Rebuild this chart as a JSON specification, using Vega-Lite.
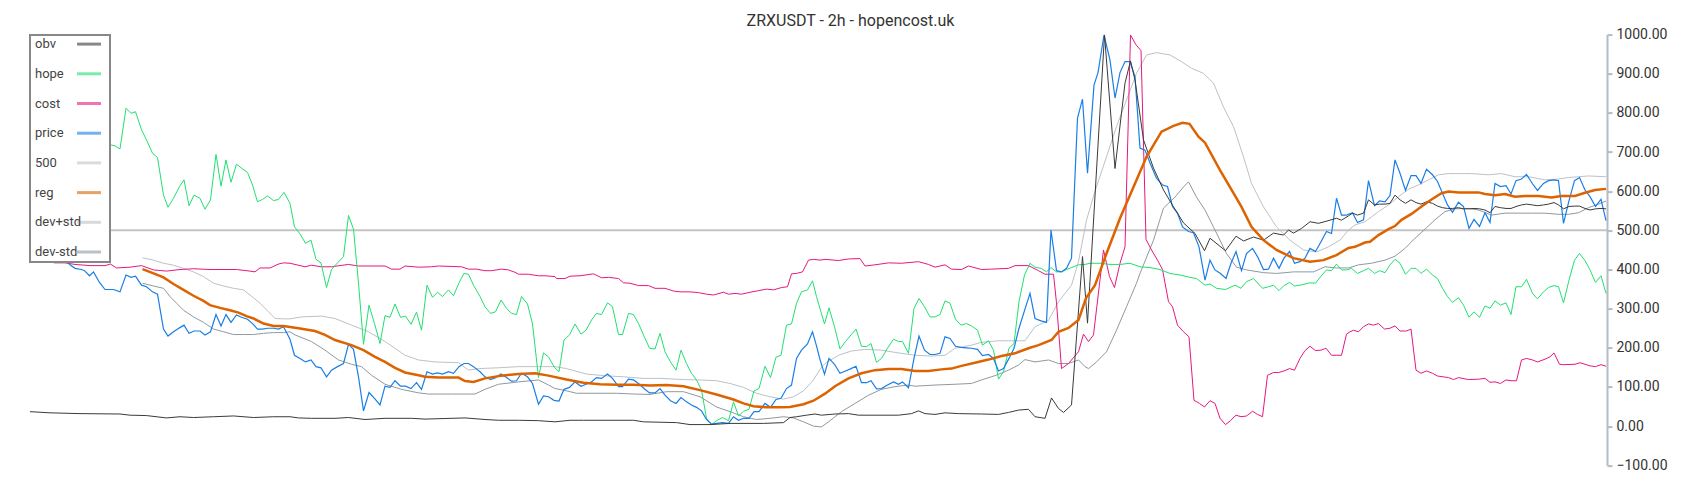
{
"$schema":"https://vega.github.io/schema/vega-lite/v6.json",
"autosize":"none","width":1577,"height":430.7,
"padding":{"left":30,"top":34.6,"right":93,"bottom":34.7},
"background":"white",
"title":{"text":"ZRXUSDT - 2h - hopencost.uk","font":"Roboto","fontSize":16,"fontWeight":"normal","color":"#333","anchor":"middle","dx":32,"offset":-1},
"config":{"view":{"stroke":null}},
"datasets":{
"obv":[{"t":0,"v":37},{"t":4,"v":34},{"t":10,"v":32},{"t":18,"v":31},{"t":20,"v":28},{"t":23.3,"v":27},{"t":27.3,"v":21},{"t":30,"v":24},{"t":32.7,"v":22},{"t":36.7,"v":24},{"t":40.7,"v":26},{"t":44.7,"v":22},{"t":48.7,"v":24},{"t":52,"v":24},{"t":53.7,"v":21},{"t":56.3,"v":20},{"t":61,"v":20},{"t":63.7,"v":22},{"t":67,"v":17},{"t":71,"v":20},{"t":76.3,"v":20},{"t":79,"v":18},{"t":87,"v":21},{"t":91,"v":17},{"t":93.7,"v":15},{"t":97.7,"v":15},{"t":101.7,"v":14},{"t":105,"v":11},{"t":108,"v":15},{"t":110.7,"v":15},{"t":116,"v":15},{"t":120.7,"v":15},{"t":122.7,"v":11},{"t":129.3,"v":9},{"t":132,"v":4},{"t":136,"v":4},{"t":140,"v":7},{"t":144,"v":7},{"t":146.7,"v":7},{"t":150.7,"v":9},{"t":152,"v":22},{"t":153.3,"v":24},{"t":155.3,"v":28},{"t":157,"v":31},{"t":158.3,"v":28},{"t":161,"v":31},{"t":163.7,"v":32},{"t":165.7,"v":28},{"t":169,"v":28},{"t":173.7,"v":28},{"t":176.3,"v":32},{"t":177.7,"v":39},{"t":179,"v":32},{"t":181,"v":30},{"t":183,"v":34},{"t":185.7,"v":32},{"t":190.3,"v":31},{"t":193.7,"v":30},{"t":195.7,"v":35},{"t":197.7,"v":41},{"t":199.7,"v":43},{"t":201,"v":24},{"t":203,"v":20},{"t":204.3,"v":72},{"t":205.7,"v":45},{"t":206.7,"v":35},{"t":208.3,"v":54},{"t":210.5,"v":433},{"t":211.5,"v":263},{"t":214.9,"v":999},{"t":217,"v":658},{"t":219,"v":876},{"t":220.1,"v":933},{"t":221,"v":884},{"t":222.7,"v":731},{"t":224.7,"v":659},{"t":226.7,"v":603},{"t":228.7,"v":560},{"t":230.7,"v":519},{"t":233,"v":492},{"t":234.9,"v":448},{"t":236,"v":480},{"t":239.1,"v":448},{"t":241.2,"v":485},{"t":242.7,"v":473},{"t":244.7,"v":483},{"t":246.7,"v":475},{"t":248.7,"v":493},{"t":250.7,"v":488},{"t":251.7,"v":501},{"t":252.7,"v":493},{"t":254.3,"v":505},{"t":256,"v":522},{"t":257.7,"v":518},{"t":260,"v":526},{"t":261.3,"v":531},{"t":262.3,"v":526},{"t":263.7,"v":537},{"t":264.5,"v":544},{"t":265.5,"v":539},{"t":266.7,"v":544},{"t":267.7,"v":578},{"t":268.9,"v":565},{"t":269.9,"v":567},{"t":271,"v":567},{"t":272,"v":569},{"t":273,"v":590},{"t":274,"v":578},{"t":275.1,"v":569},{"t":276.2,"v":578},{"t":277.2,"v":571},{"t":278.2,"v":567},{"t":279.3,"v":573},{"t":280.5,"v":569},{"t":281.5,"v":562},{"t":282.5,"v":558},{"t":283.5,"v":556},{"t":284.5,"v":556},{"t":285.7,"v":558},{"t":286.7,"v":555},{"t":287.8,"v":555},{"t":288.8,"v":556},{"t":289.9,"v":555},{"t":291,"v":552},{"t":292,"v":545},{"t":293,"v":561},{"t":294.1,"v":558},{"t":295.2,"v":556},{"t":296.2,"v":556},{"t":297.2,"v":561},{"t":298.3,"v":565},{"t":299.3,"v":567},{"t":300.5,"v":565},{"t":301.5,"v":563},{"t":302.7,"v":565},{"t":303.7,"v":567},{"t":304.8,"v":571},{"t":305.7,"v":565},{"t":306.7,"v":555},{"t":307.8,"v":561},{"t":308.9,"v":562},{"t":309.9,"v":562},{"t":311,"v":556},{"t":312,"v":552},{"t":313.1,"v":555},{"t":314.2,"v":556},{"t":315.2,"v":555}],
"hope":[{"t":0,"v":720},{"t":8,"v":728},{"t":16.2,"v":718},{"t":17,"v":716},{"t":18,"v":708},{"t":19.2,"v":812},{"t":20.2,"v":799},{"t":21.1,"v":803},{"t":22.3,"v":757},{"t":23.3,"v":731},{"t":24.5,"v":697},{"t":25.5,"v":686},{"t":26.7,"v":590},{"t":27.6,"v":559},{"t":28.7,"v":582},{"t":29.9,"v":612},{"t":30.8,"v":629},{"t":31.8,"v":563},{"t":32.8,"v":590},{"t":34,"v":582},{"t":35,"v":554},{"t":36.1,"v":578},{"t":37.2,"v":694},{"t":38.2,"v":613},{"t":39.2,"v":680},{"t":40.2,"v":623},{"t":41.3,"v":669},{"t":42.3,"v":659},{"t":43.5,"v":648},{"t":44.5,"v":616},{"t":45.5,"v":573},{"t":46.5,"v":579},{"t":47.5,"v":588},{"t":48.7,"v":576},{"t":49.7,"v":579},{"t":50.8,"v":597},{"t":52,"v":569},{"t":52.9,"v":509},{"t":54,"v":491},{"t":55.1,"v":467},{"t":56.2,"v":475},{"t":57.2,"v":426},{"t":58.2,"v":417},{"t":59.3,"v":354},{"t":60.3,"v":400},{"t":61.5,"v":417},{"t":62.7,"v":433},{"t":63.7,"v":538},{"t":64.7,"v":503},{"t":65.7,"v":365},{"t":66.7,"v":209},{"t":67.8,"v":309},{"t":68.9,"v":262},{"t":70,"v":211},{"t":71,"v":282},{"t":72,"v":278},{"t":73,"v":312},{"t":74.1,"v":278},{"t":75.1,"v":281},{"t":76.2,"v":260},{"t":77.3,"v":291},{"t":78.3,"v":245},{"t":79.4,"v":360},{"t":80.5,"v":329},{"t":81.5,"v":342},{"t":82.5,"v":331},{"t":83.7,"v":348},{"t":84.7,"v":333},{"t":85.8,"v":366},{"t":86.8,"v":390},{"t":87.7,"v":388},{"t":88.7,"v":360},{"t":90,"v":331},{"t":91,"v":305},{"t":92.1,"v":288},{"t":93.1,"v":292},{"t":94.2,"v":322},{"t":95.3,"v":301},{"t":96.3,"v":288},{"t":97.3,"v":285},{"t":98.3,"v":331},{"t":99.5,"v":312},{"t":100.5,"v":261},{"t":101.7,"v":124},{"t":102.7,"v":187},{"t":103.7,"v":177},{"t":104.9,"v":150},{"t":105.8,"v":139},{"t":106.8,"v":220},{"t":107.9,"v":233},{"t":109,"v":261},{"t":110.2,"v":235},{"t":111.2,"v":245},{"t":112.3,"v":271},{"t":113.3,"v":288},{"t":114.3,"v":285},{"t":115.5,"v":315},{"t":116.5,"v":305},{"t":117.7,"v":234},{"t":118.5,"v":234},{"t":119.7,"v":288},{"t":120.7,"v":285},{"t":121.7,"v":262},{"t":122.8,"v":230},{"t":123.9,"v":199},{"t":125,"v":197},{"t":126,"v":237},{"t":127,"v":190},{"t":128.1,"v":164},{"t":129.2,"v":143},{"t":130.2,"v":194},{"t":131.3,"v":160},{"t":132.3,"v":135},{"t":133.3,"v":118},{"t":134.3,"v":92},{"t":135.3,"v":20},{"t":136.3,"v":4},{"t":137.3,"v":14},{"t":138.5,"v":22},{"t":139.7,"v":14},{"t":140.7,"v":62},{"t":141.7,"v":26},{"t":142.7,"v":38},{"t":143.8,"v":43},{"t":144.8,"v":90},{"t":145.8,"v":96},{"t":147,"v":153},{"t":148.1,"v":124},{"t":149.2,"v":176},{"t":150.2,"v":181},{"t":151.3,"v":258},{"t":152.3,"v":261},{"t":153.3,"v":314},{"t":154.3,"v":343},{"t":155.5,"v":348},{"t":156.5,"v":371},{"t":157.3,"v":331},{"t":158,"v":300},{"t":158.9,"v":261},{"t":159.8,"v":302},{"t":160.9,"v":254},{"t":162,"v":197},{"t":163.1,"v":216},{"t":164.2,"v":233},{"t":165.2,"v":248},{"t":166.3,"v":204},{"t":167.3,"v":203},{"t":168.2,"v":211},{"t":169.3,"v":163},{"t":170.3,"v":173},{"t":171.5,"v":199},{"t":172.7,"v":222},{"t":173.7,"v":216},{"t":174.5,"v":216},{"t":175.7,"v":186},{"t":176.8,"v":301},{"t":177.8,"v":326},{"t":178.9,"v":305},{"t":180,"v":279},{"t":181,"v":279},{"t":182,"v":285},{"t":183,"v":320},{"t":184,"v":314},{"t":185.1,"v":273},{"t":186.2,"v":258},{"t":187.3,"v":262},{"t":188.3,"v":256},{"t":189.5,"v":245},{"t":190.5,"v":207},{"t":191.7,"v":218},{"t":192.7,"v":194},{"t":193.7,"v":120},{"t":194.7,"v":139},{"t":195.8,"v":199},{"t":196.8,"v":211},{"t":197.8,"v":318},{"t":198.9,"v":386},{"t":200,"v":416},{"t":201,"v":406},{"t":202.2,"v":403},{"t":203.3,"v":394},{"t":204.2,"v":405},{"t":205.3,"v":394},{"t":206.3,"v":394},{"t":207.3,"v":400},{"t":208.3,"v":405},{"t":209.7,"v":412},{"t":211,"v":413},{"t":212,"v":416},{"t":214,"v":416},{"t":216,"v":413},{"t":218,"v":413},{"t":220,"v":416},{"t":222,"v":407},{"t":224,"v":405},{"t":226,"v":400},{"t":228,"v":390},{"t":230,"v":386},{"t":232,"v":380},{"t":233.3,"v":377},{"t":235,"v":360},{"t":236,"v":363},{"t":237.3,"v":352},{"t":239.1,"v":349},{"t":241,"v":360},{"t":242.2,"v":352},{"t":243.3,"v":369},{"t":244.7,"v":377},{"t":246.5,"v":352},{"t":247.7,"v":356},{"t":248.7,"v":360},{"t":249.8,"v":346},{"t":250.8,"v":359},{"t":251.9,"v":367},{"t":252.9,"v":358},{"t":254,"v":360},{"t":256,"v":366},{"t":257.1,"v":365},{"t":258.2,"v":383},{"t":259.3,"v":399},{"t":260.3,"v":397},{"t":261.3,"v":414},{"t":262.3,"v":399},{"t":263.3,"v":399},{"t":264.3,"v":403},{"t":265.5,"v":390},{"t":266.7,"v":397},{"t":267.7,"v":403},{"t":268.9,"v":390},{"t":269.9,"v":397},{"t":271,"v":392},{"t":272,"v":412},{"t":273,"v":426},{"t":274,"v":416},{"t":275.1,"v":388},{"t":276.2,"v":403},{"t":277.2,"v":403},{"t":278.2,"v":390},{"t":279.3,"v":401},{"t":280.5,"v":386},{"t":281.5,"v":377},{"t":282.5,"v":352},{"t":283.5,"v":331},{"t":284.5,"v":316},{"t":285.7,"v":328},{"t":286.7,"v":309},{"t":287.8,"v":278},{"t":288.8,"v":292},{"t":289.9,"v":278},{"t":291,"v":307},{"t":292,"v":301},{"t":293,"v":320},{"t":294.1,"v":309},{"t":295.2,"v":315},{"t":296.2,"v":285},{"t":297.2,"v":356},{"t":298.3,"v":356},{"t":299.3,"v":375},{"t":300.5,"v":339},{"t":301.5,"v":325},{"t":302.7,"v":343},{"t":303.7,"v":354},{"t":304.8,"v":359},{"t":305.7,"v":356},{"t":306.7,"v":315},{"t":307.8,"v":373},{"t":308.9,"v":424},{"t":309.9,"v":441},{"t":311,"v":423},{"t":312,"v":399},{"t":313.1,"v":367},{"t":314.2,"v":384},{"t":315.2,"v":339}],
"cost":[{"t":0,"v":430},{"t":2,"v":424},{"t":5,"v":417},{"t":7,"v":417},{"t":9,"v":413},{"t":12,"v":410},{"t":15,"v":410},{"t":16.1,"v":414},{"t":17.3,"v":404},{"t":20,"v":406},{"t":22.3,"v":410},{"t":24.7,"v":399},{"t":27.3,"v":396},{"t":30,"v":400},{"t":32.7,"v":402},{"t":36,"v":400},{"t":41.3,"v":400},{"t":44,"v":396},{"t":45,"v":394},{"t":46,"v":404},{"t":48,"v":404},{"t":49.7,"v":414},{"t":50.7,"v":417},{"t":52,"v":416},{"t":53,"v":413},{"t":55,"v":407},{"t":56.3,"v":411},{"t":58.3,"v":407},{"t":60.3,"v":407},{"t":63.7,"v":413},{"t":65.7,"v":409},{"t":71,"v":409},{"t":72.3,"v":401},{"t":74,"v":401},{"t":75,"v":409},{"t":77.7,"v":406},{"t":80.3,"v":407},{"t":81.7,"v":409},{"t":86.3,"v":407},{"t":87.7,"v":401},{"t":89.3,"v":401},{"t":91,"v":397},{"t":92.3,"v":397},{"t":94.3,"v":401},{"t":95.7,"v":399},{"t":97,"v":393},{"t":97.7,"v":388},{"t":99.7,"v":388},{"t":101.7,"v":384},{"t":103,"v":384},{"t":105,"v":382},{"t":105.3,"v":377},{"t":107,"v":377},{"t":108,"v":383},{"t":110,"v":384},{"t":112.7,"v":389},{"t":114.3,"v":379},{"t":115.7,"v":380},{"t":117.7,"v":377},{"t":118.7,"v":366},{"t":120,"v":365},{"t":121.7,"v":359},{"t":123.7,"v":359},{"t":125,"v":352},{"t":127,"v":352},{"t":128.7,"v":345},{"t":130,"v":343},{"t":132,"v":343},{"t":133.7,"v":341},{"t":135.3,"v":337},{"t":136.7,"v":335},{"t":138.7,"v":342},{"t":139.7,"v":337},{"t":141,"v":339},{"t":142.3,"v":337},{"t":144,"v":342},{"t":145.7,"v":346},{"t":147.3,"v":350},{"t":148.7,"v":348},{"t":150.3,"v":354},{"t":151.5,"v":356},{"t":152.3,"v":389},{"t":153.3,"v":390},{"t":154.5,"v":394},{"t":155.7,"v":424},{"t":156.7,"v":426},{"t":158,"v":424},{"t":159,"v":426},{"t":161.7,"v":423},{"t":163.7,"v":427},{"t":166,"v":428},{"t":167,"v":409},{"t":169,"v":412},{"t":171.7,"v":417},{"t":174.3,"v":416},{"t":177.7,"v":420},{"t":179.7,"v":413},{"t":181,"v":406},{"t":183,"v":412},{"t":184.3,"v":401},{"t":186.3,"v":400},{"t":187.7,"v":409},{"t":190.3,"v":400},{"t":192.3,"v":401},{"t":195.7,"v":403},{"t":197,"v":410},{"t":199.7,"v":410},{"t":201.7,"v":397},{"t":203,"v":388},{"t":204.7,"v":388},{"t":205.3,"v":315},{"t":206.3,"v":147},{"t":207.7,"v":160},{"t":209.7,"v":190},{"t":210.7,"v":235},{"t":211.7,"v":216},{"t":212.7,"v":233},{"t":214.7,"v":450},{"t":215.9,"v":382},{"t":216.9,"v":354},{"t":218,"v":416},{"t":219,"v":458},{"t":220.1,"v":999},{"t":221.2,"v":974},{"t":222.2,"v":959},{"t":223.2,"v":477},{"t":224.3,"v":450},{"t":225.5,"v":424},{"t":226.5,"v":400},{"t":227.7,"v":318},{"t":228.5,"v":305},{"t":229.5,"v":258},{"t":230.7,"v":241},{"t":231.8,"v":228},{"t":232.8,"v":66},{"t":233.9,"v":58},{"t":234.9,"v":49},{"t":236,"v":65},{"t":237,"v":58},{"t":238,"v":20},{"t":239.1,"v":4},{"t":240.1,"v":14},{"t":241.2,"v":28},{"t":242.2,"v":24},{"t":243.3,"v":26},{"t":244.5,"v":38},{"t":245.5,"v":30},{"t":246.5,"v":24},{"t":247.5,"v":130},{"t":248.7,"v":137},{"t":249.7,"v":137},{"t":250.8,"v":141},{"t":251.9,"v":147},{"t":252.9,"v":143},{"t":254,"v":173},{"t":255,"v":193},{"t":256,"v":204},{"t":257.1,"v":193},{"t":258.2,"v":194},{"t":259.2,"v":199},{"t":260.3,"v":181},{"t":261.3,"v":181},{"t":262.3,"v":181},{"t":263.3,"v":235},{"t":264,"v":241},{"t":264.7,"v":245},{"t":265.7,"v":241},{"t":266.7,"v":254},{"t":267.7,"v":261},{"t":268.7,"v":258},{"t":269.7,"v":262},{"t":270.9,"v":248},{"t":272,"v":250},{"t":273,"v":256},{"t":274,"v":243},{"t":275.3,"v":243},{"t":276.2,"v":248},{"t":277.2,"v":143},{"t":278.2,"v":135},{"t":279.3,"v":141},{"t":280.5,"v":135},{"t":281.5,"v":128},{"t":283.7,"v":124},{"t":284.7,"v":119},{"t":285.7,"v":124},{"t":287.7,"v":119},{"t":289.7,"v":120},{"t":291,"v":122},{"t":292,"v":112},{"t":293,"v":113},{"t":294.1,"v":109},{"t":295.2,"v":118},{"t":296.2,"v":116},{"t":297.3,"v":116},{"t":298.3,"v":169},{"t":299.3,"v":173},{"t":300.5,"v":169},{"t":301.5,"v":164},{"t":303,"v":171},{"t":304,"v":177},{"t":304.8,"v":187},{"t":305.9,"v":158},{"t":306.7,"v":157},{"t":309,"v":158},{"t":310,"v":162},{"t":311,"v":158},{"t":312,"v":154},{"t":313.1,"v":152},{"t":314.2,"v":157},{"t":315.2,"v":153}],
"price":[{"t":0,"v":440},{"t":4,"v":432},{"t":7,"v":424},{"t":8,"v":412},{"t":9,"v":403},{"t":10.3,"v":400},{"t":10.9,"v":397},{"t":11.9,"v":384},{"t":12.7,"v":394},{"t":13.9,"v":367},{"t":15,"v":349},{"t":16.7,"v":349},{"t":18,"v":343},{"t":19.2,"v":386},{"t":20.2,"v":380},{"t":21.1,"v":383},{"t":22.3,"v":360},{"t":23.3,"v":356},{"t":24.5,"v":343},{"t":25.5,"v":337},{"t":26.7,"v":248},{"t":27.6,"v":230},{"t":28.7,"v":241},{"t":29.9,"v":251},{"t":30.8,"v":258},{"t":31.8,"v":237},{"t":32.8,"v":243},{"t":34,"v":243},{"t":35,"v":233},{"t":36.1,"v":241},{"t":37.2,"v":285},{"t":38.2,"v":256},{"t":39.2,"v":285},{"t":40.2,"v":265},{"t":41.3,"v":284},{"t":42.3,"v":278},{"t":43.5,"v":273},{"t":44.5,"v":262},{"t":45.5,"v":248},{"t":46.5,"v":248},{"t":47.5,"v":250},{"t":48.7,"v":250},{"t":49.7,"v":248},{"t":50.7,"v":254},{"t":52,"v":222},{"t":52.9,"v":181},{"t":54,"v":173},{"t":55.1,"v":164},{"t":56.2,"v":169},{"t":57.2,"v":152},{"t":58.2,"v":149},{"t":59.3,"v":126},{"t":60.3,"v":143},{"t":61.5,"v":152},{"t":62.7,"v":160},{"t":63.7,"v":209},{"t":64.7,"v":196},{"t":65.7,"v":126},{"t":66.7,"v":39},{"t":67.8,"v":86},{"t":68.9,"v":71},{"t":70,"v":54},{"t":71,"v":102},{"t":72,"v":99},{"t":73,"v":116},{"t":74.1,"v":102},{"t":75.1,"v":102},{"t":76.2,"v":96},{"t":77.3,"v":111},{"t":78.3,"v":94},{"t":79.4,"v":139},{"t":80.5,"v":133},{"t":81.5,"v":136},{"t":82.5,"v":133},{"t":83.7,"v":139},{"t":84.7,"v":135},{"t":85.8,"v":152},{"t":86.8,"v":160},{"t":87.7,"v":160},{"t":88.7,"v":152},{"t":90,"v":139},{"t":91,"v":126},{"t":92.1,"v":119},{"t":93.1,"v":124},{"t":94.2,"v":133},{"t":95.3,"v":124},{"t":96.3,"v":115},{"t":97.3,"v":116},{"t":98.3,"v":135},{"t":99.5,"v":126},{"t":100.5,"v":109},{"t":101.7,"v":56},{"t":102.7,"v":77},{"t":103.7,"v":75},{"t":104.8,"v":66},{"t":105.8,"v":64},{"t":106.8,"v":94},{"t":107.9,"v":99},{"t":109,"v":113},{"t":110.2,"v":102},{"t":111.2,"v":107},{"t":112.3,"v":113},{"t":113.3,"v":124},{"t":114.3,"v":122},{"t":115.5,"v":133},{"t":116.5,"v":122},{"t":117.7,"v":101},{"t":118.5,"v":101},{"t":119.7,"v":120},{"t":120.7,"v":118},{"t":121.7,"v":109},{"t":122.8,"v":96},{"t":123.9,"v":85},{"t":125,"v":85},{"t":126,"v":96},{"t":127,"v":79},{"t":128.1,"v":65},{"t":129.2,"v":58},{"t":130.2,"v":73},{"t":131.3,"v":62},{"t":132.3,"v":54},{"t":133.3,"v":48},{"t":134.3,"v":39},{"t":135.3,"v":17},{"t":136.3,"v":5},{"t":137.3,"v":7},{"t":138.5,"v":9},{"t":139.7,"v":7},{"t":140.7,"v":24},{"t":141.7,"v":15},{"t":142.7,"v":20},{"t":143.8,"v":20},{"t":144.8,"v":37},{"t":145.8,"v":37},{"t":147,"v":58},{"t":148.1,"v":48},{"t":149.2,"v":68},{"t":150.2,"v":71},{"t":151.3,"v":96},{"t":152.3,"v":105},{"t":153.3,"v":173},{"t":154.3,"v":194},{"t":155.5,"v":210},{"t":156.5,"v":241},{"t":157.3,"v":205},{"t":158,"v":170},{"t":158.9,"v":133},{"t":159.8,"v":173},{"t":160.9,"v":158},{"t":162,"v":135},{"t":163.1,"v":141},{"t":164.2,"v":147},{"t":165.2,"v":153},{"t":166.3,"v":111},{"t":167.3,"v":111},{"t":168.2,"v":116},{"t":169.3,"v":95},{"t":170.3,"v":96},{"t":171.5,"v":105},{"t":172.7,"v":113},{"t":173.7,"v":107},{"t":174.5,"v":113},{"t":175.7,"v":98},{"t":176.8,"v":173},{"t":177.8,"v":230},{"t":178.9,"v":194},{"t":180,"v":183},{"t":181,"v":183},{"t":182,"v":186},{"t":183,"v":228},{"t":184,"v":224},{"t":185.1,"v":204},{"t":186.2,"v":201},{"t":187.3,"v":200},{"t":188.3,"v":199},{"t":189.5,"v":196},{"t":190.5,"v":180},{"t":191.7,"v":183},{"t":192.7,"v":173},{"t":193.7,"v":141},{"t":194.7,"v":147},{"t":195.8,"v":173},{"t":196.8,"v":199},{"t":197.8,"v":250},{"t":198.9,"v":295},{"t":200,"v":339},{"t":201,"v":275},{"t":202.2,"v":269},{"t":203.3,"v":265},{"t":204.2,"v":501},{"t":205.3,"v":397},{"t":206.3,"v":394},{"t":207.3,"v":403},{"t":208.3,"v":429},{"t":209.5,"v":787},{"t":210.5,"v":835},{"t":211.5,"v":646},{"t":212.8,"v":871},{"t":213.6,"v":903},{"t":214.8,"v":999},{"t":216,"v":935},{"t":217,"v":838},{"t":218,"v":903},{"t":219,"v":931},{"t":220,"v":931},{"t":221,"v":892},{"t":222,"v":710},{"t":223,"v":705},{"t":224,"v":672},{"t":225.3,"v":633},{"t":226.5,"v":616},{"t":227.5,"v":612},{"t":228.5,"v":561},{"t":229.5,"v":544},{"t":230.5,"v":509},{"t":231.7,"v":497},{"t":232.7,"v":494},{"t":233.8,"v":458},{"t":235,"v":373},{"t":236,"v":424},{"t":237,"v":399},{"t":238.1,"v":390},{"t":239.2,"v":377},{"t":240.2,"v":416},{"t":241.2,"v":446},{"t":242.3,"v":397},{"t":243.3,"v":441},{"t":244.5,"v":454},{"t":245.5,"v":433},{"t":246.7,"v":400},{"t":247.7,"v":401},{"t":248.7,"v":429},{"t":249.8,"v":403},{"t":250.8,"v":429},{"t":251.9,"v":446},{"t":252.9,"v":416},{"t":254,"v":420},{"t":255,"v":429},{"t":256,"v":454},{"t":257.1,"v":446},{"t":258.2,"v":471},{"t":259.3,"v":497},{"t":260.3,"v":492},{"t":261.3,"v":582},{"t":262.3,"v":539},{"t":263.3,"v":539},{"t":264.5,"v":545},{"t":265.5,"v":520},{"t":266.7,"v":527},{"t":267.7,"v":627},{"t":268.9,"v":563},{"t":269.9,"v":575},{"t":271,"v":573},{"t":272,"v":589},{"t":273,"v":680},{"t":274,"v":646},{"t":275.1,"v":602},{"t":276.2,"v":640},{"t":277.2,"v":640},{"t":278.2,"v":620},{"t":279.3,"v":656},{"t":280.5,"v":642},{"t":281.5,"v":625},{"t":282.5,"v":595},{"t":283.5,"v":565},{"t":284.5,"v":546},{"t":285.7,"v":572},{"t":286.7,"v":561},{"t":287.8,"v":505},{"t":288.8,"v":528},{"t":289.9,"v":510},{"t":291,"v":545},{"t":292,"v":520},{"t":293,"v":620},{"t":294.1,"v":612},{"t":295.2,"v":614},{"t":296.2,"v":593},{"t":297.2,"v":627},{"t":298.3,"v":631},{"t":299.3,"v":643},{"t":300.5,"v":619},{"t":301.5,"v":602},{"t":302.7,"v":620},{"t":303.7,"v":627},{"t":304.8,"v":629},{"t":305.7,"v":627},{"t":306.7,"v":518},{"t":307.8,"v":576},{"t":308.9,"v":627},{"t":309.9,"v":635},{"t":311,"v":603},{"t":312,"v":586},{"t":313.1,"v":561},{"t":314.2,"v":579},{"t":315.2,"v":525}],
"ref":[{"t":0,"v":500},{"t":315.4,"v":500}],
"reg":[{"t":22.5,"v":401},{"t":24.7,"v":390},{"t":26.7,"v":380},{"t":28.7,"v":363},{"t":30.7,"v":348},{"t":32.7,"v":333},{"t":34.7,"v":320},{"t":36,"v":309},{"t":38,"v":302},{"t":40,"v":296},{"t":41.7,"v":290},{"t":43.3,"v":281},{"t":44.7,"v":275},{"t":46.7,"v":262},{"t":48.7,"v":256},{"t":50.7,"v":256},{"t":53.7,"v":250},{"t":57,"v":243},{"t":59,"v":233},{"t":61,"v":220},{"t":64.3,"v":207},{"t":66.7,"v":194},{"t":69,"v":177},{"t":71,"v":164},{"t":73,"v":149},{"t":75,"v":137},{"t":77.7,"v":130},{"t":79,"v":126},{"t":81.7,"v":124},{"t":85.7,"v":124},{"t":87,"v":115},{"t":88.7,"v":113},{"t":91,"v":122},{"t":94.3,"v":129},{"t":97.7,"v":133},{"t":101,"v":135},{"t":103.7,"v":129},{"t":107.3,"v":119},{"t":110.7,"v":111},{"t":114,"v":107},{"t":117.3,"v":106},{"t":120.7,"v":106},{"t":124,"v":104},{"t":127.3,"v":105},{"t":130.7,"v":102},{"t":134,"v":92},{"t":137.3,"v":81},{"t":140.7,"v":68},{"t":142.7,"v":58},{"t":144.7,"v":51},{"t":147.3,"v":48},{"t":150,"v":48},{"t":152,"v":49},{"t":154.7,"v":56},{"t":156.7,"v":65},{"t":159,"v":83},{"t":161,"v":102},{"t":163.7,"v":122},{"t":166.3,"v":135},{"t":169,"v":143},{"t":171.7,"v":146},{"t":174.3,"v":146},{"t":177,"v":141},{"t":179.7,"v":141},{"t":182.3,"v":145},{"t":184.3,"v":147},{"t":186.3,"v":154},{"t":189,"v":162},{"t":191.7,"v":170},{"t":194.3,"v":179},{"t":197,"v":186},{"t":199.7,"v":199},{"t":201.7,"v":207},{"t":204.3,"v":220},{"t":205.7,"v":241},{"t":207.7,"v":251},{"t":209.7,"v":271},{"t":211.2,"v":327},{"t":213,"v":360},{"t":215.3,"v":441},{"t":218,"v":531},{"t":220.7,"v":611},{"t":223.3,"v":688},{"t":226.3,"v":752},{"t":228.7,"v":767},{"t":230.5,"v":775},{"t":231.9,"v":772},{"t":233.7,"v":739},{"t":235,"v":724},{"t":238,"v":654},{"t":240.7,"v":595},{"t":242.3,"v":560},{"t":244.3,"v":509},{"t":246.7,"v":475},{"t":249.3,"v":450},{"t":252.7,"v":429},{"t":256,"v":420},{"t":258.7,"v":424},{"t":261.3,"v":437},{"t":263.7,"v":455},{"t":265,"v":458},{"t":267,"v":469},{"t":268,"v":471},{"t":269.7,"v":488},{"t":271.7,"v":503},{"t":273,"v":511},{"t":274.3,"v":527},{"t":276.3,"v":542},{"t":278.3,"v":561},{"t":280.3,"v":579},{"t":282.3,"v":595},{"t":283.7,"v":599},{"t":285.7,"v":597},{"t":287.7,"v":597},{"t":289.7,"v":597},{"t":291,"v":593},{"t":293,"v":590},{"t":295,"v":593},{"t":297,"v":586},{"t":299,"v":588},{"t":301.7,"v":588},{"t":304.3,"v":584},{"t":306.3,"v":588},{"t":309,"v":588},{"t":311,"v":596},{"t":313,"v":603},{"t":315.2,"v":606}],
"devp":[{"t":22.5,"v":430},{"t":24.7,"v":424},{"t":26.7,"v":416},{"t":28.7,"v":411},{"t":30.7,"v":403},{"t":32.7,"v":394},{"t":34.7,"v":382},{"t":36.7,"v":365},{"t":38.7,"v":358},{"t":40.7,"v":352},{"t":42.7,"v":348},{"t":44,"v":335},{"t":46,"v":314},{"t":47.7,"v":292},{"t":49,"v":275},{"t":50.7,"v":274},{"t":52,"v":274},{"t":54.3,"v":279},{"t":58.3,"v":281},{"t":61,"v":275},{"t":64.3,"v":258},{"t":67.7,"v":241},{"t":71,"v":216},{"t":73,"v":199},{"t":75,"v":181},{"t":77.7,"v":169},{"t":81,"v":164},{"t":85.7,"v":162},{"t":87.7,"v":143},{"t":89.7,"v":147},{"t":93.7,"v":149},{"t":97.7,"v":152},{"t":101.7,"v":152},{"t":105,"v":152},{"t":107.3,"v":147},{"t":111.3,"v":133},{"t":114.7,"v":129},{"t":118.7,"v":126},{"t":122.7,"v":122},{"t":126,"v":122},{"t":130.7,"v":119},{"t":134,"v":118},{"t":137.3,"v":116},{"t":140,"v":109},{"t":142.7,"v":99},{"t":145.3,"v":84},{"t":148,"v":75},{"t":150.7,"v":69},{"t":152.7,"v":75},{"t":154.7,"v":90},{"t":156.7,"v":118},{"t":158,"v":145},{"t":159,"v":160},{"t":161.7,"v":181},{"t":164.3,"v":192},{"t":167,"v":196},{"t":170.3,"v":194},{"t":173.7,"v":187},{"t":177,"v":181},{"t":180.3,"v":179},{"t":183,"v":181},{"t":185,"v":199},{"t":188.3,"v":207},{"t":190.3,"v":214},{"t":193.7,"v":218},{"t":197,"v":218},{"t":199,"v":218},{"t":201,"v":254},{"t":203.7,"v":270},{"t":205.7,"v":318},{"t":208.3,"v":360},{"t":209.7,"v":420},{"t":211.3,"v":526},{"t":213,"v":600},{"t":215.3,"v":688},{"t":217.3,"v":765},{"t":219.3,"v":833},{"t":221.3,"v":901},{"t":223.3,"v":948},{"t":225.3,"v":954},{"t":228,"v":948},{"t":230.3,"v":931},{"t":232.3,"v":914},{"t":234.7,"v":901},{"t":236.7,"v":876},{"t":238.7,"v":815},{"t":240.7,"v":765},{"t":242.7,"v":688},{"t":244.3,"v":620},{"t":246.7,"v":560},{"t":249.3,"v":509},{"t":252,"v":475},{"t":254.7,"v":450},{"t":257.3,"v":445},{"t":259.7,"v":458},{"t":262,"v":475},{"t":263.7,"v":501},{"t":265,"v":514},{"t":267,"v":522},{"t":269.7,"v":548},{"t":271.7,"v":565},{"t":273.7,"v":586},{"t":275.7,"v":605},{"t":277.7,"v":616},{"t":279.7,"v":629},{"t":281.7,"v":642},{"t":283.7,"v":645},{"t":285.7,"v":645},{"t":288.3,"v":645},{"t":291.7,"v":642},{"t":294.3,"v":645},{"t":297,"v":637},{"t":299.7,"v":637},{"t":303,"v":629},{"t":305.7,"v":631},{"t":307.7,"v":635},{"t":309.7,"v":637},{"t":311.7,"v":639},{"t":315.2,"v":637}],
"devm":[{"t":22.5,"v":365},{"t":24.7,"v":358},{"t":26.7,"v":352},{"t":28,"v":331},{"t":29.3,"v":314},{"t":30.7,"v":296},{"t":32.7,"v":279},{"t":34.7,"v":265},{"t":36.7,"v":248},{"t":38.7,"v":241},{"t":40.7,"v":234},{"t":42.7,"v":234},{"t":44.7,"v":234},{"t":46.7,"v":237},{"t":48.7,"v":239},{"t":50.7,"v":239},{"t":52,"v":241},{"t":53,"v":233},{"t":56.3,"v":216},{"t":59,"v":194},{"t":61.7,"v":169},{"t":64.3,"v":158},{"t":66.3,"v":152},{"t":68.3,"v":130},{"t":71,"v":107},{"t":74.3,"v":94},{"t":77.7,"v":85},{"t":79.7,"v":82},{"t":84.3,"v":82},{"t":89,"v":82},{"t":91,"v":94},{"t":93.7,"v":107},{"t":97.7,"v":113},{"t":101.7,"v":118},{"t":103.7,"v":105},{"t":105,"v":96},{"t":106.7,"v":92},{"t":109.3,"v":84},{"t":114,"v":84},{"t":117.3,"v":84},{"t":120.7,"v":82},{"t":124,"v":81},{"t":127.3,"v":88},{"t":130.7,"v":88},{"t":134,"v":75},{"t":137.3,"v":49},{"t":140,"v":37},{"t":142.7,"v":24},{"t":145.3,"v":17},{"t":148,"v":20},{"t":150.7,"v":24},{"t":152.7,"v":21},{"t":154.7,"v":11},{"t":156.7,"v":0},{"t":158.3,"v":-2},{"t":159.7,"v":11},{"t":162.3,"v":37},{"t":165,"v":58},{"t":167.7,"v":79},{"t":170.3,"v":94},{"t":173,"v":101},{"t":175.7,"v":105},{"t":177,"v":102},{"t":181,"v":105},{"t":185,"v":107},{"t":188.3,"v":109},{"t":190.3,"v":118},{"t":193,"v":129},{"t":195.7,"v":143},{"t":197.7,"v":156},{"t":199,"v":170},{"t":201,"v":164},{"t":203.7,"v":169},{"t":205.7,"v":160},{"t":207.7,"v":160},{"t":209.7,"v":169},{"t":211,"v":152},{"t":211.7,"v":147},{"t":213.3,"v":164},{"t":215.3,"v":190},{"t":217.3,"v":245},{"t":219.3,"v":305},{"t":221.3,"v":365},{"t":222,"v":390},{"t":224.7,"v":475},{"t":226.7,"v":557},{"t":229,"v":585},{"t":230.7,"v":611},{"t":231.7,"v":624},{"t":233.3,"v":585},{"t":235,"v":552},{"t":237.3,"v":493},{"t":239.3,"v":441},{"t":241.3,"v":406},{"t":243.3,"v":399},{"t":246.7,"v":392},{"t":249.3,"v":390},{"t":252.7,"v":394},{"t":256.7,"v":394},{"t":259,"v":407},{"t":261.3,"v":404},{"t":263.7,"v":404},{"t":265.7,"v":412},{"t":268.3,"v":416},{"t":271,"v":424},{"t":273,"v":434},{"t":275,"v":454},{"t":277,"v":480},{"t":279,"v":503},{"t":281,"v":527},{"t":283,"v":548},{"t":285,"v":555},{"t":287.7,"v":556},{"t":289.7,"v":552},{"t":292.3,"v":539},{"t":295,"v":544},{"t":297.7,"v":544},{"t":300.3,"v":544},{"t":303,"v":544},{"t":305.7,"v":541},{"t":307.7,"v":541},{"t":309.7,"v":545},{"t":311.7,"v":558},{"t":313.7,"v":567},{"t":315.2,"v":575}]
},
"encoding":{
"x":{"field":"t","type":"quantitative","scale":{"domain":[0,315.4],"nice":false,"zero":false},"axis":null},
"y":{"field":"v","type":"quantitative","scale":{"domain":[-100,1000],"nice":false,"zero":false},
"axis":{"orient":"right","title":null,"grid":false,"values":[-100,0,100,200,300,400,500,600,700,800,900,1000],"format":".2f","labelFont":"Roboto","labelFontSize":14,"labelColor":"#333","domainColor":"#b4bcc3","domainWidth":2,"tickColor":"#b4bcc3","tickWidth":2,"tickSize":5,"labelPadding":4}}
},
"layer":[
{"data":{"name":"ref"},"mark":{"type":"line","strokeWidth":2},"encoding":{"color":{"datum":"500","type":"nominal",
"scale":{"domain":["obv","hope","cost","price","500","reg","dev+std","dev-std"],"range":["#3a3a3a","#20e070","#e8177f","#1a7ee6","#c4c4c4","#dd6300","#bcc2c8","#8f99a1"]},
"legend":{"title":null,"orient":"none","legendX":0,"legendY":0.5,"symbolType":"stroke","symbolSize":576,"symbolStrokeWidth":3,"symbolOpacity":0.6,"labelFont":"Roboto","labelFontSize":13,"labelColor":"#444","padding":3,"rowPadding":16.7,"fillColor":"white","strokeColor":"#888",
"encoding":{"symbols":{"x":{"value":56},"y":{"value":6}},"labels":{"x":{"value":2},"y":{"value":6},"align":{"value":"left"}},"legend":{"strokeWidth":{"value":2}}}}}}},
{"data":{"name":"devp"},"mark":{"type":"line","strokeWidth":1},"encoding":{"color":{"datum":"dev+std","type":"nominal"}}},
{"data":{"name":"devm"},"mark":{"type":"line","strokeWidth":1},"encoding":{"color":{"datum":"dev-std","type":"nominal"}}},
{"data":{"name":"cost"},"mark":{"type":"line","strokeWidth":1},"encoding":{"color":{"datum":"cost","type":"nominal"}}},
{"data":{"name":"hope"},"mark":{"type":"line","strokeWidth":1},"encoding":{"color":{"datum":"hope","type":"nominal"}}},
{"data":{"name":"price"},"mark":{"type":"line","strokeWidth":1.2},"encoding":{"color":{"datum":"price","type":"nominal"}}},
{"data":{"name":"obv"},"mark":{"type":"line","strokeWidth":1},"encoding":{"color":{"datum":"obv","type":"nominal"}}},
{"data":{"name":"reg"},"mark":{"type":"line","strokeWidth":2.5},"encoding":{"color":{"datum":"reg","type":"nominal"}}}
]
}
